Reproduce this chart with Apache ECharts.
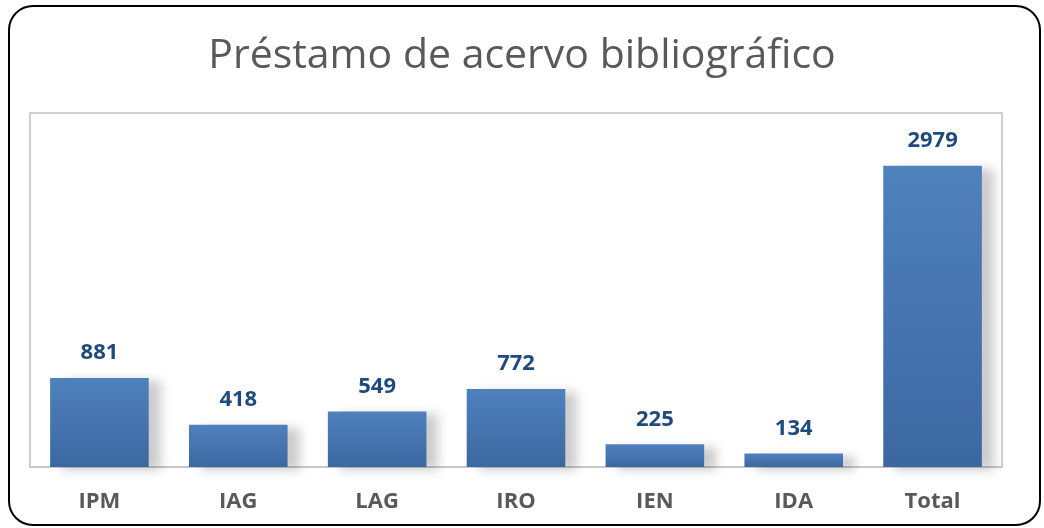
<!DOCTYPE html>
<html>
<head>
<meta charset="utf-8">
<script src="https://cdn.jsdelivr.net/npm/echarts@6/dist/echarts.min.js"></script>
<style>
  html, body { margin: 0; padding: 0; background: #fff; }
  #chart { width: 1044px; height: 528px; }
</style>
</head>
<body>
<div id="chart"></div>
<script>
var categories = ['IPM', 'IAG', 'LAG', 'IRO', 'IEN', 'IDA', 'Total']
var values = [881, 418, 549, 772, 225, 134, 2979]

var chart = echarts.init(document.getElementById('chart'))
chart.setOption({
  backgroundColor: '#fff',
  title: {
    text: 'Préstamo de acervo bibliográfico',
    left: 'center',
    top: 31,
    textStyle: {
      fontFamily: 'Open Sans',
      fontWeight: 'normal',
      fontSize: 41,
      color: '#595959',
    },
  },
  graphic: [
    {
      type: 'rect',
      shape: { x: 9, y: 6, width: 1031, height: 519, r: 24 },
      style: { fill: 'none', stroke: '#000', lineWidth: 2 },
      silent: true,
    },
  ],
  grid: {
    left: 30,
    right: 42,
    top: 113,
    bottom: 61,
    show: true,
    borderColor: '#d0d0d0',
    borderWidth: 2,
  },
  xAxis: {
    type: 'category',
    data: categories,
    axisTick: { show: false },
    axisLine: { lineStyle: { color: '#c8c8c8', width: 2 } },
    axisLabel: {
      margin: 24,
      fontFamily: 'Open Sans',
      fontWeight: 'bold',
      fontSize: 22,
      color: '#595959',
    },
  },
  yAxis: {
    type: 'value',
    min: 0,
    max: 3500,
    show: false,
    splitLine: { show: false },
  },
  series: [
    {
      type: 'bar',
      data: values,
      barCategoryGap: '29%',
      itemStyle: {
        color: new echarts.graphic.LinearGradient(0, 0, 0, 1, [
          { offset: 0, color: '#4f81bd' },
          { offset: 1, color: '#3c68a1' },
        ]),
        shadowColor: 'rgba(0,0,0,0.2)',
        shadowBlur: 10,
        shadowOffsetX: 12,
        shadowOffsetY: 3,
      },
      label: {
        show: true,
        position: 'top',
        distance: 14,
        fontFamily: 'Open Sans',
        fontWeight: 'bold',
        fontSize: 22,
        color: '#1f4a7e',
      },
    },
  ],
})
</script>
</body>
</html>
